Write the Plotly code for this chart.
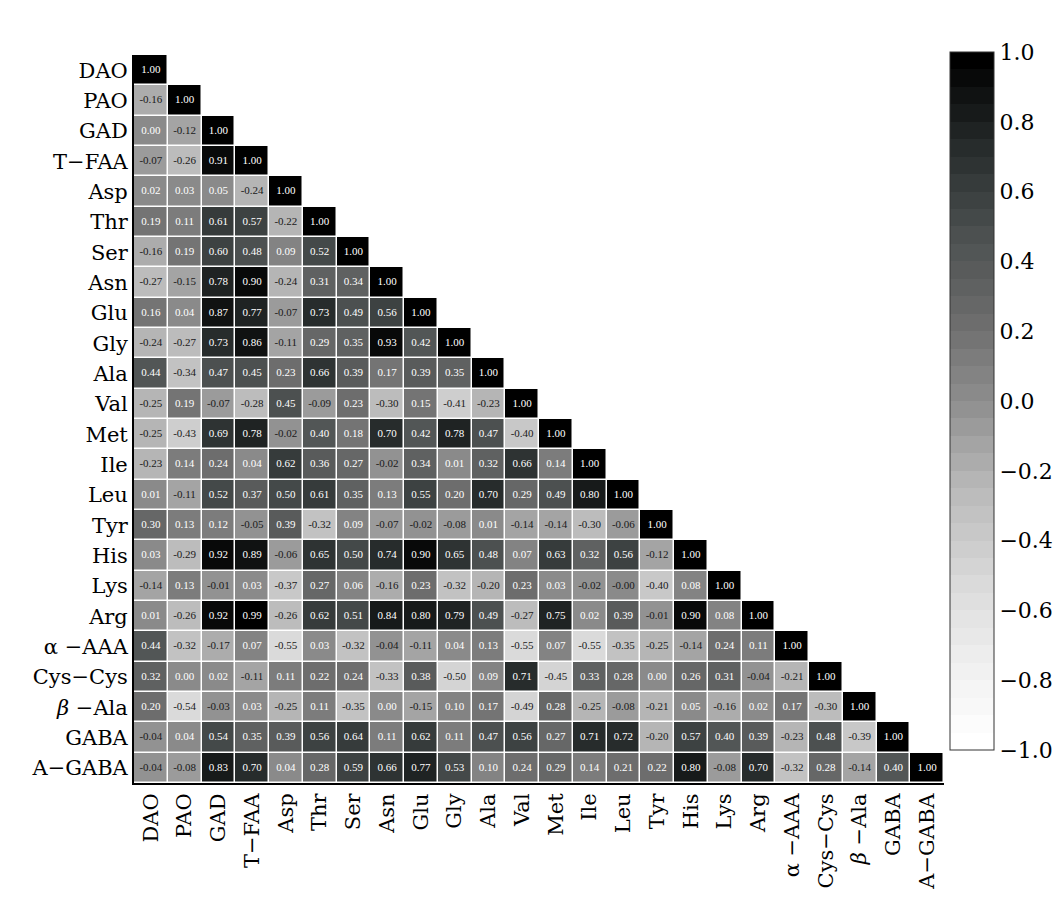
import plotly.graph_objects as go

labels = ["DAO", "PAO", "GAD", "T−FAA", "Asp", "Thr", "Ser", "Asn", "Glu", "Gly", "Ala",
          "Val", "Met", "Ile", "Leu", "Tyr", "His", "Lys", "Arg", "α −AAA", "Cys−Cys",
          "<i>β</i> −Ala", "GABA", "A−GABA"]

r_DAO = [1.00]
r_PAO = [-0.16, 1.00]
r_GAD = [0.00, -0.12, 1.00]
r_TFAA = [-0.07, -0.26, 0.91, 1.00]
r_Asp = [0.02, 0.03, 0.05, -0.24, 1.00]
r_Thr = [0.19, 0.11, 0.61, 0.57, -0.22, 1.00]
r_Ser = [-0.16, 0.19, 0.60, 0.48, 0.09, 0.52, 1.00]
r_Asn = [-0.27, -0.15, 0.78, 0.90, -0.24, 0.31, 0.34, 1.00]
r_Glu = [0.16, 0.04, 0.87, 0.77, -0.07, 0.73, 0.49, 0.56, 1.00]
r_Gly = [-0.24, -0.27, 0.73, 0.86, -0.11, 0.29, 0.35, 0.93, 0.42, 1.00]
r_Ala = [0.44, -0.34, 0.47, 0.45, 0.23, 0.66, 0.39, 0.17, 0.39, 0.35, 1.00]
r_Val = [-0.25, 0.19, -0.07, -0.28, 0.45, -0.09, 0.23, -0.30, 0.15, -0.41, -0.23, 1.00]
r_Met = [-0.25, -0.43, 0.69, 0.78, -0.02, 0.40, 0.18, 0.70, 0.42, 0.78, 0.47, -0.40, 1.00]
r_Ile = [-0.23, 0.14, 0.24, 0.04, 0.62, 0.36, 0.27, -0.02, 0.34, 0.01, 0.32, 0.66, 0.14, 1.00]
r_Leu = [0.01, -0.11, 0.52, 0.37, 0.50, 0.61, 0.35, 0.13, 0.55, 0.20, 0.70, 0.29, 0.49, 0.80, 1.00]
r_Tyr = [0.30, 0.13, 0.12, -0.05, 0.39, -0.32, 0.09, -0.07, -0.02, -0.08, 0.01, -0.14, -0.14,
         -0.30, -0.06, 1.00]
r_His = [0.03, -0.29, 0.92, 0.89, -0.06, 0.65, 0.50, 0.74, 0.90, 0.65, 0.48, 0.07, 0.63, 0.32,
         0.56, -0.12, 1.00]
r_Lys = [-0.14, 0.13, -0.01, 0.03, -0.37, 0.27, 0.06, -0.16, 0.23, -0.32, -0.20, 0.23, 0.03,
         -0.02, -0.0, -0.40, 0.08, 1.00]
r_Arg = [0.01, -0.26, 0.92, 0.99, -0.26, 0.62, 0.51, 0.84, 0.80, 0.79, 0.49, -0.27, 0.75, 0.02,
         0.39, -0.01, 0.90, 0.08, 1.00]
r_aAAA = [0.44, -0.32, -0.17, 0.07, -0.55, 0.03, -0.32, -0.04, -0.11, 0.04, 0.13, -0.55, 0.07,
          -0.55, -0.35, -0.25, -0.14, 0.24, 0.11, 1.00]
r_CysCys = [0.32, 0.00, 0.02, -0.11, 0.11, 0.22, 0.24, -0.33, 0.38, -0.50, 0.09, 0.71, -0.45,
            0.33, 0.28, 0.00, 0.26, 0.31, -0.04, -0.21, 1.00]
r_bAla = [0.20, -0.54, -0.03, 0.03, -0.25, 0.11, -0.35, 0.00, -0.15, 0.10, 0.17, -0.49, 0.28,
          -0.25, -0.08, -0.21, 0.05, -0.16, 0.02, 0.17, -0.30, 1.00]
r_GABA = [-0.04, 0.04, 0.54, 0.35, 0.39, 0.56, 0.64, 0.11, 0.62, 0.11, 0.47, 0.56, 0.27, 0.71,
          0.72, -0.20, 0.57, 0.40, 0.39, -0.23, 0.48, -0.39, 1.00]
r_AGABA = [-0.04, -0.08, 0.83, 0.70, 0.04, 0.28, 0.59, 0.66, 0.77, 0.53, 0.10, 0.24, 0.29, 0.14,
           0.21, 0.22, 0.80, -0.08, 0.70, -0.32, 0.28, -0.14, 0.40, 1.00]

rows = [r_DAO, r_PAO, r_GAD, r_TFAA, r_Asp, r_Thr, r_Ser, r_Asn, r_Glu, r_Gly, r_Ala, r_Val,
        r_Met, r_Ile, r_Leu, r_Tyr, r_His, r_Lys, r_Arg, r_aAAA, r_CysCys, r_bAla, r_GABA, r_AGABA]

n = len(labels)
z = [[(row[j] if j < len(row) else None) for j in range(n)] for row in rows]

# stepped grey colour scale (white -> black)
greys = ["#ffffff", "#eeeeee", "#d6d6d6", "#b8b8b8", "#8e8e8e", "#6a6a6a", "#4a4f4f",
         "#262b2b", "#000000"]
levels = 40
def interp(t):
    pos = t * (len(greys) - 1)
    i = min(int(pos), len(greys) - 2)
    f = pos - i
    a = greys[i]; b = greys[i + 1]
    ca = [int(a[k:k + 2], 16) for k in (1, 3, 5)]
    cb = [int(b[k:k + 2], 16) for k in (1, 3, 5)]
    c = [round(ca[k] + (cb[k] - ca[k]) * f) for k in range(3)]
    return "rgb(%d,%d,%d)" % tuple(c)
cscale = []
for k in range(levels):
    col = interp(k / (levels - 1))
    cscale.append([k / levels, col])
    cscale.append([(k + 1) / levels, col])

fig = go.Figure()
fig.add_trace(go.Heatmap(
    z=z, x=labels, y=labels, zmin=-1, zmax=1, colorscale=cscale,
    xgap=1.5, ygap=1.5, hoverongaps=False,
    colorbar=dict(
        x=1.0074, xanchor="left", xref="paper", y=0.5247, yanchor="middle",
        len=698, lenmode="pixels", thickness=44, outlinecolor="#333333", outlinewidth=1,
        xpad=0, ypad=0,
        tickvals=[1.0, 0.8, 0.6, 0.4, 0.2, 0.0, -0.2, -0.4, -0.6, -0.8, -1.0],
        tickformat=".1f", ticks="", ticklen=0,
        tickfont=dict(family="DejaVu Serif", size=22, color="black"),
    ),
))

wx, wy, wt, dx, dy, dt = [], [], [], [], [], []
for i, row in enumerate(rows):
    for j, v in enumerate(row):
        s = f"{v:.2f}"
        if s.startswith("-") and i != j:
            dx.append(labels[j]); dy.append(labels[i]); dt.append(s)
        else:
            wx.append(labels[j]); wy.append(labels[i]); wt.append(s)

fig.add_trace(go.Scatter(x=wx, y=wy, text=wt, mode="text", hoverinfo="skip",
                         textfont=dict(family="Liberation Serif", size=11, color="white"),
                         showlegend=False))
fig.add_trace(go.Scatter(x=dx, y=dy, text=dt, mode="text", hoverinfo="skip",
                         textfont=dict(family="Liberation Serif", size=11, color="#1a1a1a"),
                         showlegend=False))

fig.update_xaxes(type="category", tickangle=-90, showline=True, linecolor="black", linewidth=2,
                 showgrid=False, zeroline=False, ticks="", range=[-0.5, n - 0.5],
                 automargin=False,
                 tickfont=dict(family="DejaVu Serif", size=21, color="black"),
                 categoryorder="array", categoryarray=labels)
fig.update_yaxes(type="category", range=[n - 0.5, -0.5], showline=True, linecolor="black",
                 linewidth=2, showgrid=False, zeroline=False, ticks="", automargin=False,
                 tickfont=dict(family="DejaVu Serif", size=21, color="black"),
                 categoryorder="array", categoryarray=labels)

fig.update_layout(
    width=1047, height=893,
    margin=dict(l=126, r=111, t=47, b=118, autoexpand=False),
    plot_bgcolor="white", paper_bgcolor="white",
    showlegend=False,
)

fig.write_html("out.html")
